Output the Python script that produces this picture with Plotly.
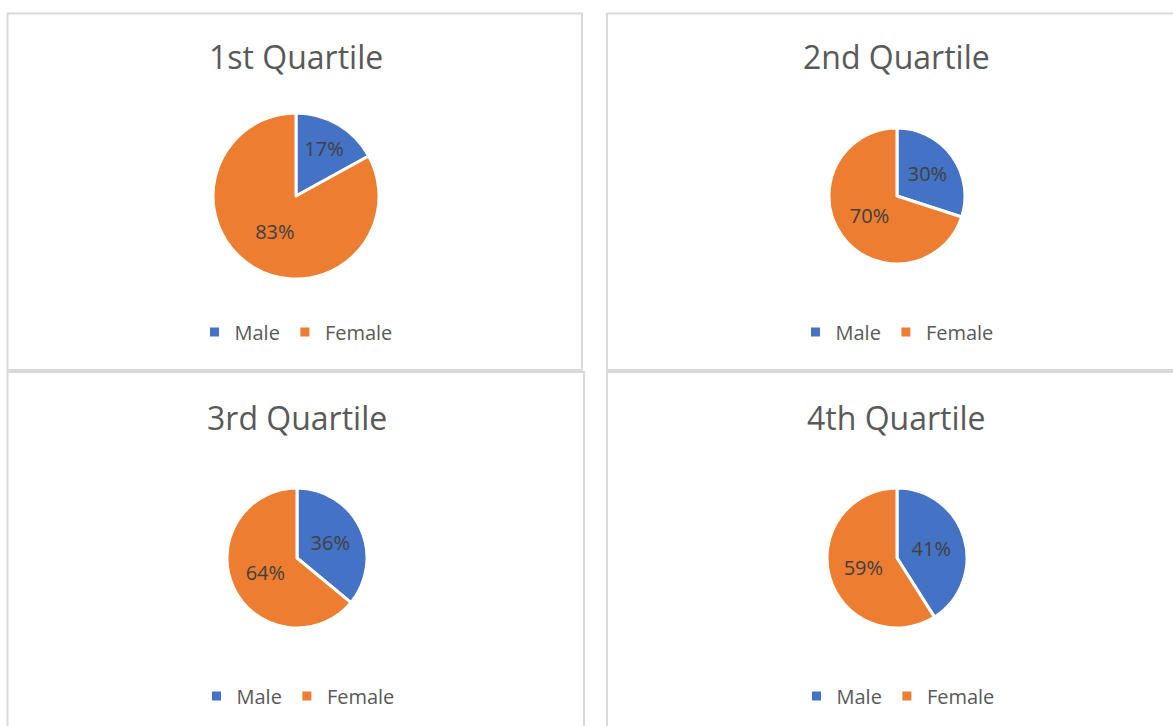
import plotly.graph_objects as go

OFF = 0
W, H = 1173, 726

labels = ["Male", "Female"]
titles = ["1st Quartile", "2nd Quartile", "3rd Quartile", "4th Quartile"]
male = [17, 30, 36, 41]
female = [83, 70, 64, 59]

colors = ["#4472C4", "#ED7D31"]
FONT = "Open Sans"

# layout geometry (window pixels)
panels = [(7.5, 13.5, 582, 370), (607, 13.5, 1200, 370), (7.5, 372, 584, 760), (607, 372, 1200, 760)]
pie_centers = [(296, 196, 83), (897, 196, 68), (297, 558, 70), (897, 558, 70)]
title_pos = [(296, 57), (897, 57), (297, 417), (897, 417)]
legend_pos = [(296, 332), (897, 332), (298, 696), (898, 696)]

def px(x):
    return (x - OFF) / W

def py(y):
    return 1 - (y - OFF) / H

fig = go.Figure()
legend_names = ["legend", "legend2", "legend3", "legend4"]
for i in range(4):
    cx, cy, r = pie_centers[i]
    fig.add_trace(go.Pie(
        labels=labels,
        values=[male[i], female[i]],
        sort=False,
        direction="clockwise",
        rotation=0,
        marker=dict(colors=colors, line=dict(color="white", width=3)),
        textinfo="percent",
        texttemplate="%{percent:.0%}",
        textposition="inside",
        insidetextorientation="horizontal",
        textfont=dict(color="#404040", size=20, family=FONT),
        domain=dict(x=[px(cx - r), px(cx + r)], y=[py(cy + r), py(cy - r)]),
        showlegend=False,
        hoverinfo="label+percent",
    ))
    # legend entries for this panel
    for lab, col in zip(labels, colors):
        fig.add_trace(go.Scatter(
            x=[None], y=[None], mode="markers", name=lab,
            marker=dict(symbol="square", size=9, color=col),
            legend=legend_names[i], showlegend=True, hoverinfo="skip",
        ))

shapes = []
for (x0, y0, x1, y1) in panels:
    shapes.append(dict(type="rect", xref="paper", yref="paper",
                       x0=px(x0), x1=px(x1), y0=py(y1), y1=py(y0),
                       line=dict(color="#D9D9D9", width=2), fillcolor="rgba(0,0,0,0)"))

annotations = []
for t, (tx, ty) in zip(titles, title_pos):
    annotations.append(dict(text=t, x=px(tx), y=py(ty), xref="paper", yref="paper",
                            xanchor="center", yanchor="middle", showarrow=False,
                            font=dict(family=FONT, size=32, color="#595959")))

layout = dict(
    width=W, height=H,
    margin=dict(l=0, r=0, t=0, b=0),
    paper_bgcolor="white", plot_bgcolor="white",
    shapes=shapes, annotations=annotations,
    uniformtext=dict(minsize=20, mode="show"),
    font=dict(family=FONT, color="#595959"),
    xaxis=dict(visible=False), yaxis=dict(visible=False),
)
for name, (lx, ly) in zip(legend_names, legend_pos):
    layout[name] = dict(orientation="h", x=px(lx), y=py(ly), xanchor="center", yanchor="middle",
                        font=dict(family=FONT, size=20, color="#595959"),
                        bgcolor="rgba(0,0,0,0)", itemwidth=30, traceorder="normal")
fig.update_layout(**layout)

fig.write_html("out.html",
               config={"displayModeBar": False},
               post_script="document.body.style.margin='0px'; document.body.style.overflow='hidden';")
